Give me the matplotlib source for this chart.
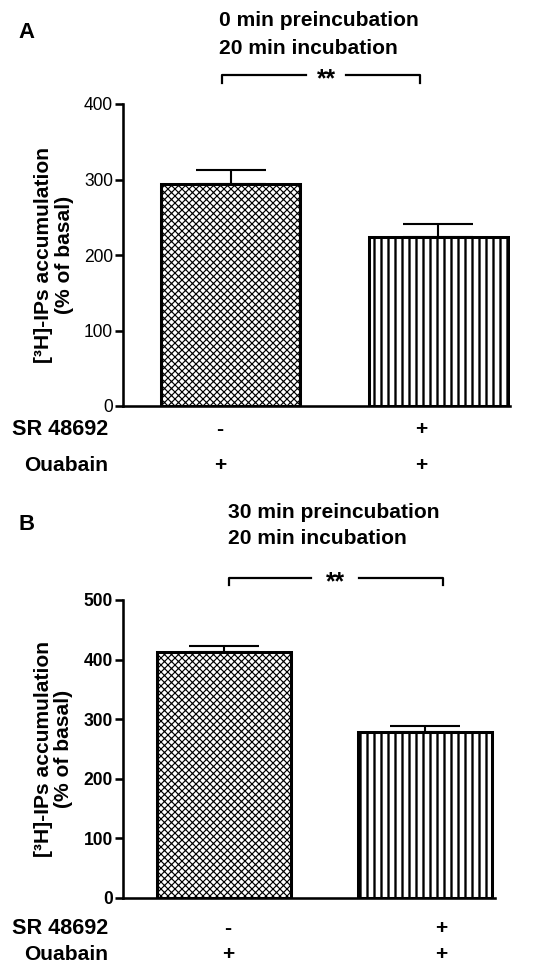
import matplotlib
matplotlib.use("Agg")
import matplotlib.pyplot as plt
import numpy as np

plt.rcParams['font.family'] = ['Liberation Sans', 'DejaVu Sans']

DPI = 84
W, H = 540, 974

# ---- data ----
conditions = ["SR- / Ouabain+", "SR+ / Ouabain+"]
sr_labels = ["-", "+"]
ouabain_labels = ["+", "+"]
A_means = [294, 224]
A_sem = [18.6, 17]
B_means = [413, 278]
B_sem = [10, 11]
A_yticks = [0, 100, 200, 300, 400]
B_yticks = [0, 100, 200, 300, 400, 500]
A_title = ["0 min preincubation", "20 min incubation"]
B_title = ["30 min preincubation", "20 min incubation"]
ylabel = "[\u00b3H]-IPs accumulation\n(% of basal)"

fig = plt.figure(figsize=(W / DPI, H / DPI), dpi=DPI)

def px_axes(left, right, top, bottom):
    return fig.add_axes([left / W, 1 - bottom / H, (right - left) / W, (bottom - top) / H])

def fx(x):
    return x / W

def fy(y):
    return 1 - y / H

def draw_panel(ax, means, sem, yticks, xlim, tick_weight):
    pos = np.arange(len(means))
    hatches = ['xxxx', '||']
    hlw = [1.0, 2.0]
    for i in range(len(means)):
        plt.rcParams['hatch.linewidth'] = hlw[i]
        ax.bar(pos[i], means[i], width=0.668, color='white', edgecolor='black',
               hatch=hatches[i], linewidth=2.6, zorder=2)
        ax.errorbar(pos[i], means[i], yerr=[[0], [sem[i]]], fmt='none', ecolor='black',
                    elinewidth=1.8, capsize=30, capthick=1.8, zorder=1)
    ax.set_xlim(*xlim)
    ax.set_ylim(yticks[0], yticks[-1])
    ax.set_yticks(yticks)
    ax.set_xticks([])
    for s in ['top', 'right']:
        ax.spines[s].set_visible(False)
    ax.spines['left'].set_linewidth(2.2)
    ax.spines['bottom'].set_linewidth(2.2)
    ax.tick_params(axis='y', length=6.5, width=2.2, pad=2, labelsize=15)
    for t in ax.get_yticklabels():
        t.set_fontweight(tick_weight)
    ax.set_ylabel(ylabel, fontsize=18, fontweight='bold', labelpad=9, linespacing=1.08)

# Panel A
axA = px_axes(123, 510, 104, 406)
draw_panel(axA, A_means, A_sem, A_yticks, (-0.517, 1.344), 'normal')
# Panel B
axB = px_axes(123, 495, 600, 898)
draw_panel(axB, B_means, B_sem, B_yticks, (-0.502, 1.348), 'bold')

# panel letters
fig.text(fx(18), fy(32), "A", fontsize=19, fontweight='bold', va='center', ha='left')
fig.text(fx(18), fy(525), "B", fontsize=19, fontweight='bold', va='center', ha='left')

# titles
fig.text(fx(219), fy(21), A_title[0], fontsize=18, fontweight='bold', va='center', ha='left')
fig.text(fx(219), fy(48), A_title[1], fontsize=18, fontweight='bold', va='center', ha='left')
fig.text(fx(228), fy(513), B_title[0], fontsize=18, fontweight='bold', va='center', ha='left')
fig.text(fx(228), fy(539), B_title[1], fontsize=18, fontweight='bold', va='center', ha='left')

# brackets (figure pixel based)
def bracket(x0, x1, y, ydrop, xm, gap):
    kw = dict(color='black', lw=1.9, transform=fig.transFigure, clip_on=False)
    fig.add_artist(plt.Line2D([fx(x0), fx(x0), fx(xm - gap)], [fy(y + ydrop), fy(y), fy(y)], **kw))
    fig.add_artist(plt.Line2D([fx(xm + gap), fx(x1), fx(x1)], [fy(y), fy(y), fy(y + ydrop)], **kw))
    fig.text(fx(xm), fy(y + 4), "**", fontsize=21, fontweight='bold', ha='center', va='center')

bracket(222, 420, 75, 8, 326, 20)
bracket(229, 443, 578, 7, 335, 24)

# condition rows
def rows(sr_y, ou_y, xs):
    fig.text(fx(108), fy(sr_y), "SR 48692", fontsize=18.5, fontweight='bold', ha='right', va='center')
    fig.text(fx(108), fy(ou_y), "Ouabain", fontsize=18, fontweight='bold', ha='right', va='center')
    for i in range(len(sr_labels)):
        fig.text(fx(xs[i]), fy(sr_y), sr_labels[i], fontsize=18, fontweight='bold', ha='center', va='center')
        fig.text(fx(xs[i]), fy(ou_y), ouabain_labels[i], fontsize=18, fontweight='bold', ha='center', va='center')

rows(430, 466, [220, 421])
rows(928, 954, [228, 441])

fig.savefig("out.png", dpi=DPI)
